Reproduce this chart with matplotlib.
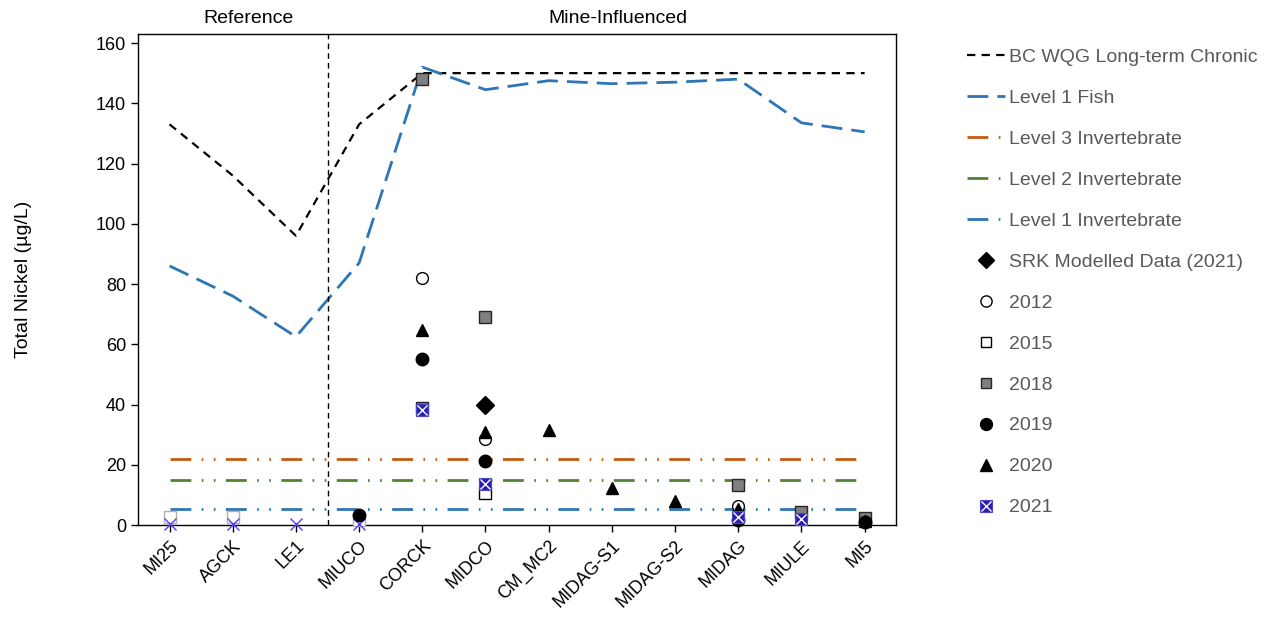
import numpy as np
import matplotlib.pyplot as plt

plt.rcParams['font.family'] = ['Liberation Sans', 'DejaVu Sans']
plt.rcParams['lines.scale_dashes'] = False

sites = ["MI25", "AGCK", "LE1", "MIUCO", "CORCK", "MIDCO", "CM_MC2",
         "MIDAG-S1", "MIDAG-S2", "MIDAG", "MIULE", "MI5"]

# guideline curves (ug/L) per site
bc_wqg = [133, 116, 96, 133, 150, 150, 150, 150, 150, 150, 150, 150]
lvl1_fish = [86, 76, 62.5, 87, 152, 144.5, 147.5, 146.5, 147, 148, 133.5, 130.5]
lvl3_inv = [22] * 12
lvl2_inv = [15] * 12
lvl1_inv = [5.3] * 12

# measured / modelled values: (site, value)
srk_sites = ["MIDCO"]
srk_vals = [39.8]
y2012_sites = ["CORCK", "MIDCO", "MIDAG"]
y2012_vals = [82, 28.5, 6.3]
y2015_sites = ["MIDCO"]
y2015_vals = [10.6]
y2015_dl_sites = ["MI25", "AGCK", "MIUCO"]
y2015_dl_vals = [2.6, 2.6, 1.8]
y2018_sites = ["CORCK", "CORCK", "MIDCO", "MIDAG", "MIULE", "MI5"]
y2018_vals = [148, 38.8, 69, 13.4, 4.4, 2.4]
y2019_sites = ["MIUCO", "CORCK", "MIDCO", "MIDAG", "MI5"]
y2019_vals = [3.4, 55, 21.2, 1.5, 1.0]
y2020_sites = ["CORCK", "MIDCO", "CM_MC2", "MIDAG-S1", "MIDAG-S2", "MIDAG", "MI5"]
y2020_vals = [64.6, 30.9, 31.5, 12.3, 8.0, 5.2, 1.4]
y2021_sites = ["CORCK", "MIDCO", "MIDAG", "MIULE"]
y2021_vals = [38.2, 13.6, 2.8, 2.0]
y2021_dl_sites = ["MI25", "AGCK", "LE1", "MIUCO"]
y2021_dl_vals = [0.5, 0.5, 0.5, 0.5]


def pos(names):
    return [sites.index(n) for n in names]


x = np.arange(len(sites))
fig = plt.figure(figsize=(12.68, 6.2), dpi=100)
ax = fig.add_axes([0.1088, 0.1532, 0.598, 0.792])

blue = '#2E75B6'
inv_dash = (0, (15, 7.5, 1.2, 7.5, 1.2, 7.5))
h_bc, = ax.plot(x, bc_wqg, color='black', lw=1.6, ls=(0, (6, 4.5)),
                label='BC WQG Long-term Chronic')
h_fish, = ax.plot(x, lvl1_fish, color=blue, lw=2.0, ls=(0, (15, 6.5)),
                  label='Level 1 Fish')
h_l3, = ax.plot(x, lvl3_inv, color='#C55A11', lw=2.0, ls=inv_dash,
                label='Level 3 Invertebrate')
h_l2, = ax.plot(x, lvl2_inv, color='#548235', lw=2.0, ls=inv_dash,
                label='Level 2 Invertebrate')
h_l1, = ax.plot(x, lvl1_inv, color=blue, lw=2.0, ls=inv_dash,
                label='Level 1 Invertebrate')

ax.axvline(2.5, color='black', lw=1, ls=(0, (4, 3)))

pts = dict(ls='none', clip_on=False)
# below-detection markers drawn faintly
ax.plot(pos(y2015_dl_sites), y2015_dl_vals, 's', ms=8, mfc='white',
        mec='#b0b0b0', mew=1, zorder=4, **pts)
ax.plot(pos(y2021_dl_sites), y2021_dl_vals, 'x', ms=8, color='#5a3cff',
        mew=1, zorder=5, **pts)

h_18, = ax.plot(pos(y2018_sites), y2018_vals, 's', ms=8, mfc='#808080',
                mec='#262626', mew=1, zorder=4, **pts)
h_12, = ax.plot(pos(y2012_sites), y2012_vals, 'o', ms=8.5, mfc='white',
                mec='black', mew=1, zorder=4, **pts)
h_15, = ax.plot(pos(y2015_sites), y2015_vals, 's', ms=8, mfc='white',
                mec='black', mew=1, zorder=4, **pts)
h_19, = ax.plot(pos(y2019_sites), y2019_vals, 'o', ms=9, color='black',
                zorder=5, **pts)
h_20, = ax.plot(pos(y2020_sites), y2020_vals, '^', ms=9, color='black',
                zorder=5, **pts)
h_srk, = ax.plot(pos(srk_sites), srk_vals, 'D', ms=9, color='black',
                 zorder=5, **pts)
h_21a, = ax.plot(pos(y2021_sites), y2021_vals, 's', ms=8.5, mfc='#2B1FB0',
                 mec='#4b45c8', mew=0.8, zorder=6, **pts)
h_21b, = ax.plot(pos(y2021_sites), y2021_vals, 'x', ms=7, color='white',
                 mew=1, zorder=7, **pts)

ax.set_xlim(-0.5, len(sites) - 0.5)
ax.set_ylim(0, 163)
ax.set_yticks(np.arange(0, 161, 20))
ax.set_xticks(x)
ax.set_xticklabels(sites, rotation=45, ha='right', rotation_mode='anchor')
ax.tick_params(axis='both', labelsize=13, direction='out', length=5,
               width=1, colors='black')
ax.tick_params(axis='x', pad=4)
for s in ax.spines.values():
    s.set_linewidth(1)
ax.set_ylabel('Total Nickel (\u00b5g/L)', fontsize=14, labelpad=46)

ax.text(1.25, 1.015, 'Reference', transform=ax.get_xaxis_transform(),
        ha='center', va='bottom', fontsize=14)
ax.text(7.1, 1.015, 'Mine-Influenced', transform=ax.get_xaxis_transform(),
        ha='center', va='bottom', fontsize=14)

handles = [h_bc, h_fish, h_l3, h_l2, h_l1, h_srk, h_12, h_15, h_18, h_19,
           h_20, (h_21a, h_21b)]
labels = ['BC WQG Long-term Chronic', 'Level 1 Fish', 'Level 3 Invertebrate',
          'Level 2 Invertebrate', 'Level 1 Invertebrate',
          'SRK Modelled Data (2021)', '2012', '2015', '2018', '2019', '2020',
          '2021']
leg = fig.legend(handles, labels, loc='upper left',
                 bbox_to_anchor=(0.763, 0.922), frameon=False, fontsize=14,
                 handlelength=1.95, handletextpad=0.2, labelspacing=1.2,
                 borderaxespad=0, borderpad=0, markerscale=0.95)
for t in leg.get_texts():
    t.set_color('#595959')

fig.savefig('out.png', dpi=100)
